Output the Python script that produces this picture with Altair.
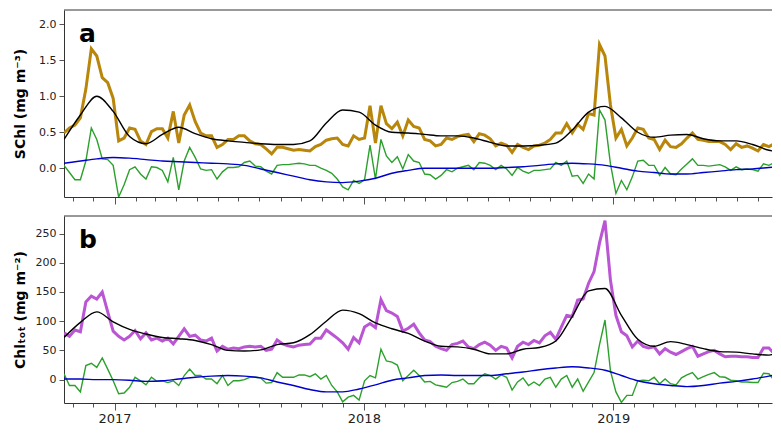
import pandas as pd
import altair as alt

# 8-day composites, first one on 2016-10-19
schl = [0.49, 0.56, 0.60, 0.70, 1.10, 1.66, 1.56, 1.26, 1.19, 0.97,
        0.38, 0.42, 0.56, 0.54, 0.38, 0.33, 0.51, 0.55, 0.55, 0.42,
        0.79, 0.35, 0.74, 0.88, 0.65, 0.49, 0.45, 0.45, 0.29, 0.33,
        0.40, 0.40, 0.45, 0.45, 0.38, 0.34, 0.33, 0.27, 0.20, 0.29,
        0.29, 0.27, 0.25, 0.26, 0.25, 0.24, 0.30, 0.33, 0.39, 0.41,
        0.42, 0.33, 0.31, 0.45, 0.40, 0.42, 0.87, 0.35, 0.87, 0.62,
        0.55, 0.64, 0.45, 0.67, 0.58, 0.56, 0.40, 0.38, 0.31, 0.33,
        0.42, 0.40, 0.44, 0.46, 0.47, 0.37, 0.48, 0.46, 0.41, 0.31,
        0.35, 0.32, 0.22, 0.33, 0.29, 0.26, 0.31, 0.32, 0.35, 0.40,
        0.49, 0.49, 0.62, 0.49, 0.61, 0.54, 0.76, 0.74, 1.72, 1.56,
        0.88, 0.42, 0.54, 0.31, 0.42, 0.56, 0.54, 0.42, 0.40, 0.26,
        0.39, 0.30, 0.29, 0.34, 0.42, 0.49, 0.40, 0.39, 0.37, 0.37,
        0.37, 0.33, 0.26, 0.34, 0.29, 0.31, 0.28, 0.24, 0.33, 0.30,
        0.34, 0.40]
schl_anom = [0.04, -0.06, -0.16, -0.16, 0.10, 0.56, 0.40, 0.13, 0.12, 0.04,
             -0.40, -0.23, -0.02, 0.02, -0.08, -0.15, 0.02, 0.01, -0.03, -0.19,
             0.15, -0.30, 0.10, 0.29, 0.15, -0.01, -0.03, -0.02, -0.15, -0.05,
             0.01, 0.01, 0.02, 0.08, 0.10, 0.03, 0.02, -0.04, -0.08, 0.04,
             0.05, 0.05, 0.06, 0.07, 0.06, 0.04, 0.04, 0.00, -0.03, -0.07,
             -0.15, -0.26, -0.30, -0.17, -0.21, -0.16, 0.32, -0.15, 0.40, 0.17,
             0.08, 0.16, -0.01, 0.19, 0.10, 0.08, -0.08, -0.09, -0.15, -0.10,
             -0.02, -0.05, 0.00, 0.02, 0.04, -0.02, 0.08, 0.07, 0.04, -0.02,
             0.04, -0.01, -0.10, 0.01, -0.04, -0.07, -0.03, -0.03, -0.02, -0.01,
             0.08, 0.04, 0.10, -0.11, -0.10, -0.21, -0.08, -0.15, 0.81, 0.67,
             0.06, -0.35, -0.17, -0.30, -0.12, 0.10, 0.11, 0.04, 0.04, -0.10,
             0.01, -0.08, -0.09, -0.01, 0.06, 0.13, 0.04, 0.04, 0.03, 0.04,
             0.05, 0.02, -0.03, 0.02, -0.02, -0.01, -0.02, -0.04, 0.06, 0.04,
             0.08, 0.10]
chl = [80, 74, 85, 82, 133, 143, 138, 150, 116, 83,
       74, 68, 74, 84, 70, 80, 68, 71, 66, 71,
       61, 74, 87, 74, 76, 68, 66, 71, 49, 57,
       52, 54, 53, 56, 57, 56, 57, 50, 52, 68,
       61, 58, 56, 59, 60, 61, 71, 71, 85, 78,
       71, 63, 52, 72, 63, 90, 96, 89, 137, 118,
       114, 108, 83, 88, 95, 80, 68, 65, 57, 53,
       50, 60, 62, 66, 56, 53, 60, 64, 59, 50,
       57, 54, 37, 57, 64, 60, 67, 63, 75, 81,
       69, 90, 110, 108, 136, 138, 165, 185, 234, 272,
       170, 110, 82, 75, 56, 66, 57, 54, 56, 44,
       53, 47, 43, 48, 53, 57, 40, 44, 48, 50,
       44, 39, 40, 40, 39, 39, 38, 38, 54, 54,
       44, 61]
chl_anom = [10, -10, -10, -21, 24, 28, 21, 37, 18, -2,
            -24, -23, -13, 4, -2, -9, 4, -3, -2, -5,
            -2, -10, 7, 18, 7, 7, 1, 1, -7, 7,
            -10, -2, -2, 0, 4, 4, 3, -6, -5, 12,
            4, 4, 4, 8, 8, 5, 10, 1, 7, -10,
            -21, -38, -30, -27, -35, -2, 7, 3, 52, 32,
            30, 25, -2, 7, 16, 7, -4, -3, -9, -11,
            -13, -5, -3, 1, -7, -7, 3, 10, 7, 1,
            8, 4, -18, -4, 3, -10, -4, -10, 1, 4,
            -13, 1, 7, -13, 1, -20, -4, 12, 60, 102,
            15, -21, -39, -27, -27, -2, -1, -2, 4, -7,
            1, -7, -9, 3, 8, 12, 1, 5, 9, 12,
            5, 4, -1, -2, -4, -4, -5, -5, 11, 10,
            -2, 7]

# smooth fits, every 24 days from 2016-10-19
schl_fit = [0.40, 0.74, 1.00, 0.79, 0.44, 0.34, 0.47, 0.57, 0.48, 0.41,
            0.38, 0.36, 0.34, 0.33, 0.33, 0.38, 0.63, 0.81, 0.78, 0.60,
            0.50, 0.49, 0.47, 0.45, 0.45, 0.42, 0.36, 0.31, 0.31, 0.32,
            0.35, 0.53, 0.78, 0.86, 0.70, 0.50, 0.43, 0.46, 0.47, 0.41,
            0.38, 0.38, 0.33, 0.25, 0.22]
schl_trend = [0.07, 0.10, 0.13, 0.15, 0.14, 0.12, 0.10, 0.09, 0.08, 0.07,
              0.06, 0.04, -0.01, -0.06, -0.11, -0.16, -0.19, -0.20, -0.18, -0.14,
              -0.07, -0.03, 0.00, 0.00, 0.00, 0.00, 0.00, 0.01, 0.02, 0.04,
              0.06, 0.07, 0.06, 0.04, 0.00, -0.04, -0.06, -0.08, -0.08, -0.06,
              -0.04, -0.02, -0.01, 0.01, 0.03]
chl_fit = [72, 98, 116, 99, 86, 78, 72, 70, 67, 60,
           50, 49, 51, 60, 63, 77, 100, 119, 113, 97,
           87, 79, 66, 57, 56, 52, 44, 44, 52, 55,
           66, 108, 152, 156, 110, 69, 57, 65, 60, 53,
           48, 47, 44, 42, 60]
chl_trend = [1, 1, 0, 0, -1, -3, -2, 1, 4, 6,
             7, 6, 3, -4, -10, -17, -21, -21, -16, -9,
             -1, 3, 7, 8, 7, 7, 7, 10, 13, 17,
             20, 22, 20, 16, 7, -2, -7, -10, -12, -10,
             -6, -3, 1, 6, 11]

dates8 = pd.date_range("2016-10-19", periods=len(schl), freq="8D")
dates24 = pd.date_range("2016-10-19", periods=len(schl_fit), freq="24D")

W, H = 708, 187
x_dom = [alt.DateTime(year=2016, month=10, date=19),
         alt.DateTime(year=2019, month=8, date=21, hours=12)]
months = [alt.DateTime(year=2016 + (10 + i) // 12, month=(10 + i) % 12 + 1, date=1) for i in range(34)]


def panel(raw, anom, fit, trend, raw_color, ytitle, ydom, yticks, yfmt, letter, labels):
    d8 = pd.DataFrame({"date": dates8, "raw": raw, "anom": anom})
    d24 = pd.DataFrame({"date": dates24, "fit": fit, "trend": trend})

    xaxis = alt.Axis(values=months, labels=labels, domain=True, grid=False,
                     tickSize=alt.condition("month(datum.value) == 0", alt.value(7), alt.value(4)),
                     labelExpr="month(datum.value) == 0 ? timeFormat(datum.value, '%Y') : ''",
                     labelOverlap=False, labelFlush=False, labelFontSize=13, labelPadding=2)
    x = alt.X("date:T", title=None, scale=alt.Scale(domain=x_dom), axis=xaxis)

    def y(field):
        return alt.Y(field, type="quantitative", title=ytitle,
                     scale=alt.Scale(domain=ydom, nice=False, zero=False),
                     axis=alt.Axis(values=yticks, format=yfmt, grid=False, domain=True,
                                   tickSize=5, labelFontSize=11, labelPadding=3,
                                   titleX=-37, titleY=H / 2, titleFontSize=14,
                                   titleFontWeight="bold", titleColor="black"))

    raw_line = alt.Chart(d8).mark_line(color=raw_color, strokeWidth=3, clip=True).encode(x=x, y=y("raw"))
    anom_line = alt.Chart(d8).mark_line(color="#2ca02c", strokeWidth=1.4, clip=True).encode(x=x, y=y("anom"))
    fit_line = alt.Chart(d24).mark_line(color="black", strokeWidth=1.4, interpolate="monotone",
                                        clip=True).encode(x=x, y=y("fit"))
    trend_line = alt.Chart(d24).mark_line(color="#0000cc", strokeWidth=1.4, interpolate="monotone",
                                          clip=True).encode(x=x, y=y("trend"))
    tag = alt.Chart(pd.DataFrame({"t": [letter]})).mark_text(
        fontSize=25, fontWeight="bold", align="left", baseline="alphabetic", color="black"
    ).encode(text="t:N", x=alt.value(15), y=alt.value(32))
    # top edge of the frame
    top_edge = alt.Chart(pd.DataFrame({"t": [0]})).mark_rule(color="#333", strokeWidth=1).encode(
        x=alt.value(0), x2=alt.value(W), y=alt.value(0))

    return alt.layer(raw_line, fit_line, anom_line, trend_line, tag, top_edge).properties(width=W, height=H)


top = panel(schl, schl_anom, schl_fit, schl_trend, "#b8860b", "SChl (mg m⁻³)",
            [-0.4, 2.2], [0.0, 0.5, 1.0, 1.5, 2.0], ".1f", "a", False)
bottom = panel(chl, chl_anom, chl_fit, chl_trend, "#ba55d3", "Chlₜₒₜ (mg m⁻²)",
               [-40, 280], [0, 50, 100, 150, 200, 250], "d", "b", True)

chart = alt.vconcat(top, bottom, spacing=10).properties(
    padding={"left": 5, "top": 1, "right": 0, "bottom": 0}
).configure(font="DejaVu Sans").configure_view(
    strokeWidth=0
).configure_axis(
    tickColor="#555", labelColor="#222", domainColor="#333"
)

chart.save("out.html", embed_options={"renderer": "svg", "actions": False})
